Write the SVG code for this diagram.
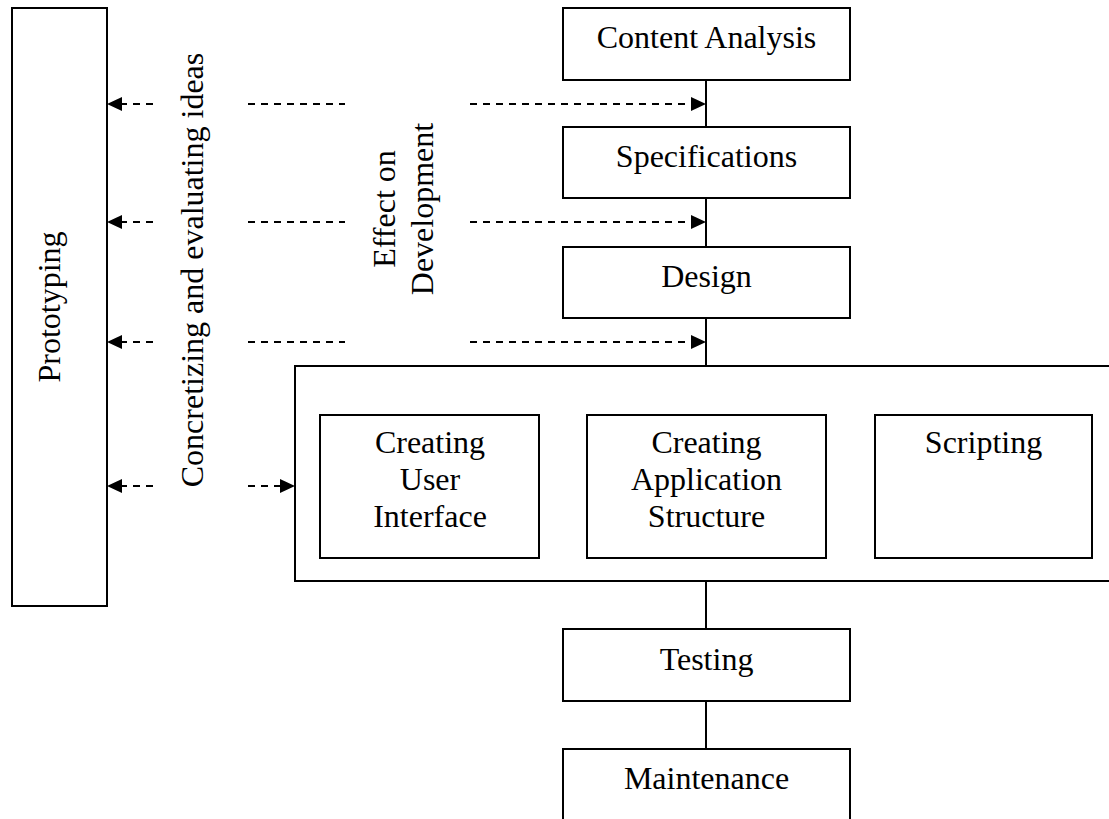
<svg xmlns="http://www.w3.org/2000/svg" width="1109" height="819" viewBox="0 0 1109 819">
<defs>
<style>
.box{fill:#fff;stroke:#000;stroke-width:2}
.t{font-family:"Liberation Serif","Times New Roman",serif;font-size:32px;fill:#000;text-anchor:middle}
.ln{stroke:#000;stroke-width:2;fill:none}
.dash{stroke:#000;stroke-width:2;fill:none;stroke-dasharray:7,6}
</style>
<marker id="ah" markerUnits="userSpaceOnUse" markerWidth="16" markerHeight="14" refX="0" refY="7" orient="auto">
<path d="M0,0 L15,7 L0,14 Z" fill="#000"/>
</marker>
</defs>
<rect width="1109" height="819" fill="#fff"/>

<g id="connectors">
<line class="ln" x1="706" y1="80" x2="706" y2="127"/>
<line class="ln" x1="706" y1="198" x2="706" y2="247"/>
<line class="ln" x1="706" y1="318" x2="706" y2="366"/>
<line class="ln" x1="706" y1="581" x2="706" y2="629"/>
<line class="ln" x1="706" y1="701" x2="706" y2="749"/>
<line class="dash" x1="153" y1="104" x2="122" y2="104" marker-end="url(#ah)"/>
<line class="dash" x1="153" y1="222" x2="122" y2="222" marker-end="url(#ah)"/>
<line class="dash" x1="153" y1="342" x2="122" y2="342" marker-end="url(#ah)"/>
<line class="dash" x1="153" y1="486" x2="122" y2="486" marker-end="url(#ah)"/>
<line class="dash" x1="248" y1="104" x2="345" y2="104"/>
<line class="dash" x1="248" y1="222" x2="345" y2="222"/>
<line class="dash" x1="248" y1="342" x2="345" y2="342"/>
<line class="dash" x1="248" y1="486" x2="280" y2="486" marker-end="url(#ah)"/>
<line class="dash" x1="470" y1="104" x2="691" y2="104" marker-end="url(#ah)"/>
<line class="dash" x1="470" y1="222" x2="691" y2="222" marker-end="url(#ah)"/>
<line class="dash" x1="470" y1="342" x2="691" y2="342" marker-end="url(#ah)"/>
</g>

<g id="prototyping">
<rect class="box" x="12" y="8" width="95" height="598"/>
<text class="t" transform="translate(60,307) rotate(-90)">Prototyping</text>
</g>

<g id="label-concretizing">
<text class="t" transform="translate(203,270) rotate(-90)">Concretizing and evaluating ideas</text>
</g>

<g id="label-effect">
<text class="t" transform="translate(395,209) rotate(-90)">Effect on</text>
<text class="t" transform="translate(433,209) rotate(-90)">Development</text>
</g>

<g id="content-analysis">
<rect class="box" x="563" y="8" width="287" height="72"/>
<text class="t" x="706.5" y="48">Content Analysis</text>
</g>

<g id="specifications">
<rect class="box" x="563" y="127" width="287" height="71"/>
<text class="t" x="706.5" y="167">Specifications</text>
</g>

<g id="design">
<rect class="box" x="563" y="247" width="287" height="71"/>
<text class="t" x="706.5" y="287">Design</text>
</g>

<g id="implementation">
<rect class="box" x="295" y="366" width="830" height="215"/>
</g>

<g id="creating-user-interface">
<rect class="box" x="320" y="415" width="219" height="143"/>
<text class="t" x="430" y="453">Creating</text>
<text class="t" x="430" y="490">User</text>
<text class="t" x="430" y="527">Interface</text>
</g>

<g id="creating-application-structure">
<rect class="box" x="587" y="415" width="239" height="143"/>
<text class="t" x="706.5" y="453">Creating</text>
<text class="t" x="706.5" y="490">Application</text>
<text class="t" x="706.5" y="527">Structure</text>
</g>

<g id="scripting">
<rect class="box" x="875" y="415" width="217" height="143"/>
<text class="t" x="983.5" y="453">Scripting</text>
</g>

<g id="testing">
<rect class="box" x="563" y="629" width="287" height="72"/>
<text class="t" x="706.5" y="670">Testing</text>
</g>

<g id="maintenance">
<rect class="box" x="563" y="749" width="287" height="90"/>
<text class="t" x="706.5" y="789">Maintenance</text>
</g>
</svg>
